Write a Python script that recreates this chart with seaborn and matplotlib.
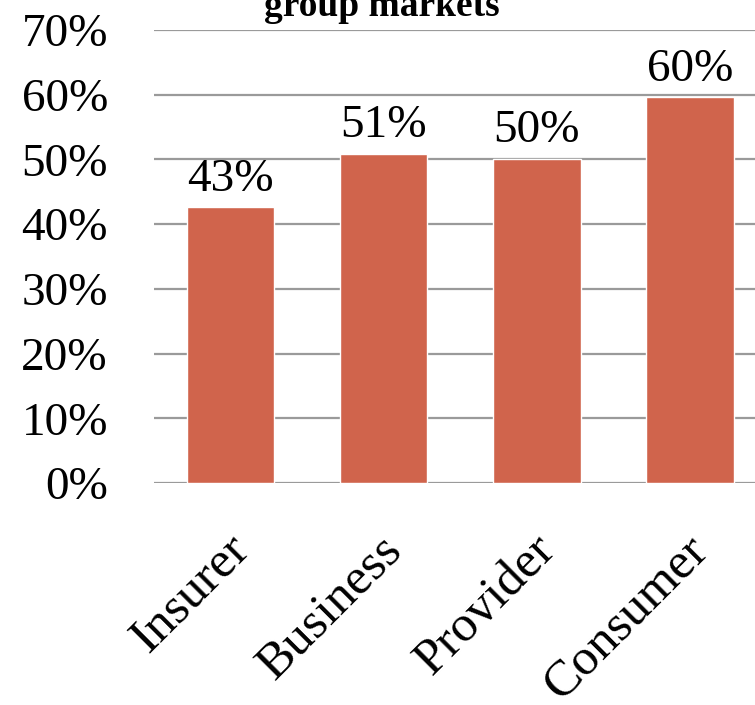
import matplotlib
matplotlib.use("Agg")
import matplotlib.pyplot as plt
import matplotlib.transforms as mtransforms
import seaborn as sns
import pandas as pd

categories = ["Insurer", "Business", "Provider", "Consumer"]
shares = [42.6, 50.9, 50.1, 59.6]
y_ticks = [0, 10, 20, 30, 40, 50, 60, 70]
y_tick_labels = [f"{t}%" for t in y_ticks]

sns.set_theme(style="white")
plt.rcParams["font.family"] = ["Liberation Serif", "DejaVu Serif"]
plt.rcParams["text.color"] = "black"
plt.rcParams["xtick.color"] = "black"
plt.rcParams["ytick.color"] = "black"

df = pd.DataFrame({"category": categories, "share": shares})

fig = plt.figure(figsize=(7.55, 7.05), dpi=100)
ax = fig.add_axes([0.2037, 0.3149, 0.8118, 0.6426])

sns.barplot(data=df, x="category", y="share", color="#D0644C",
            saturation=1, width=0.57, ax=ax, zorder=3)

ax.set_ylim(0, 70)
ax.set_yticks(y_ticks)
ax.set_yticklabels(y_tick_labels, fontsize=34)
ax.set_xlim(-0.5, 3.5)
ax.grid(axis="y", color="#9a9a9a", linewidth=1.6, zorder=0)
ax.set_axisbelow(True)
for s in ax.spines.values():
    s.set_visible(False)
ax.tick_params(axis="y", length=0, pad=33)
ax.tick_params(axis="x", length=0, pad=31)
ax.set_xticks(range(len(categories)))
ax.set_xticklabels(categories, rotation=45, ha="right", rotation_mode="anchor",
                   fontsize=37)
# nudge the slanted category names a little to the left
shift = mtransforms.ScaledTranslation(-5 / 100, 0, fig.dpi_scale_trans)
for lbl in ax.get_xticklabels():
    lbl.set_transform(lbl.get_transform() + shift)
ax.set_xlabel("")
ax.set_ylabel("")

for i, v in enumerate(shares):
    ax.text(i, v + 1.0, f"{round(v):.0f}%", ha="center", va="bottom",
            fontsize=34, zorder=4)

fig.text(0.506, 0.978, "group markets", ha="center", va="baseline",
         fontsize=27, fontweight="bold")

fig.savefig("out.png", dpi=100)
